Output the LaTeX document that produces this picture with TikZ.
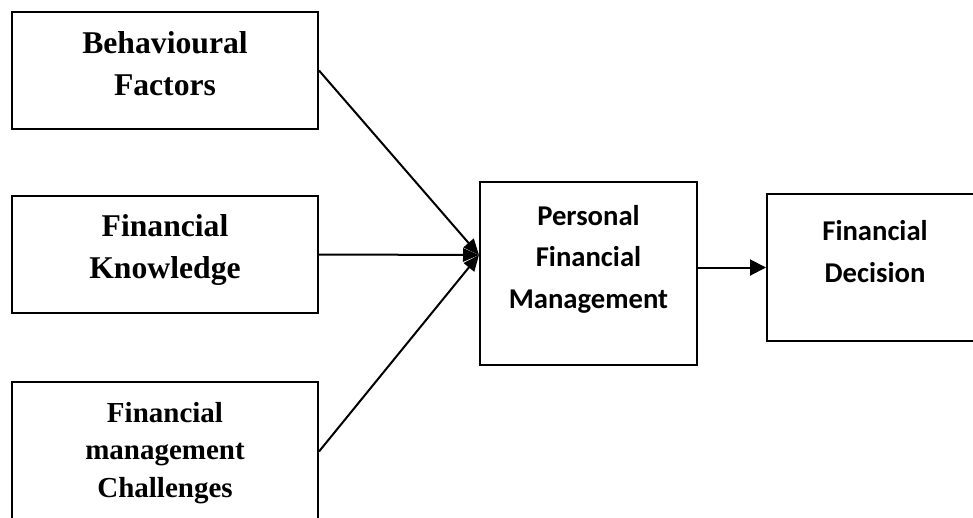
\documentclass[tikz,border=0pt]{standalone}
\usepackage{fontspec}
\setmainfont{Liberation Serif}
\newfontfamily\carlito{Carlito}
\usetikzlibrary{arrows.meta}
\tikzset{every picture/.style={x=0.75pt,y=-0.75pt}}
\tikzset{box/.style={rectangle,draw,line width=1.5pt,inner sep=0pt,minimum width=229.5pt,minimum height=87.75pt}}
\tikzset{big/.style={minimum width=162.75pt,minimum height=137.25pt}}
\tikzset{serif/.style={align=center,anchor=base,font=\fontsize{23.75}{31.5}\selectfont\bfseries}}
\tikzset{serifsmall/.style={align=center,anchor=base,font=\fontsize{21.75}{28}\selectfont\bfseries}}
\tikzset{sans/.style={align=center,anchor=base,font=\carlito\fontsize{21.5}{31}\selectfont\bfseries}}
\tikzset{edge/.style={line width=1.5pt,-{Triangle[length=12pt,width=10pt]}}}

\begin{document}
\begin{tikzpicture}
\useasboundingbox (0,0) rectangle (973,517);

\node [box] (bf) at (165,70.5) {};
\node [box] (fk) at (165,254.5) {};
\node [box,minimum height=104.25pt] (fmc) at (165,451.5) {};
\node [box,big] (pfm) at (588.5,273.5) {};
\node [box,minimum width=162pt,minimum height=110.25pt] (fd) at (875,267.5) {};

\node [serif] (bf-t) at (165,95) {Behavioural\\Factors};
\node [serif] (fk-t) at (165,278) {Financial\\Knowledge};
\node [serifsmall] (fmc-t) at (165,497) {Financial\\management\\Challenges};
\node [sans] (pfm-t) at (588.5,308) {Personal\\Financial\\Management};
\node [sans] (fd-t) at (875,282) {Financial\\Decision};

\coordinate (hub) at (479,255);
\draw [edge] (bf.east) -- (hub);
\draw [edge] (fk.east) -- (hub);
\draw [edge] (fmc.east) -- (hub);

\draw [edge,-{Triangle[length=12pt,width=12pt]}] (fd.west -| pfm.east) -- (fd.west);
\end{tikzpicture}
\end{document}
